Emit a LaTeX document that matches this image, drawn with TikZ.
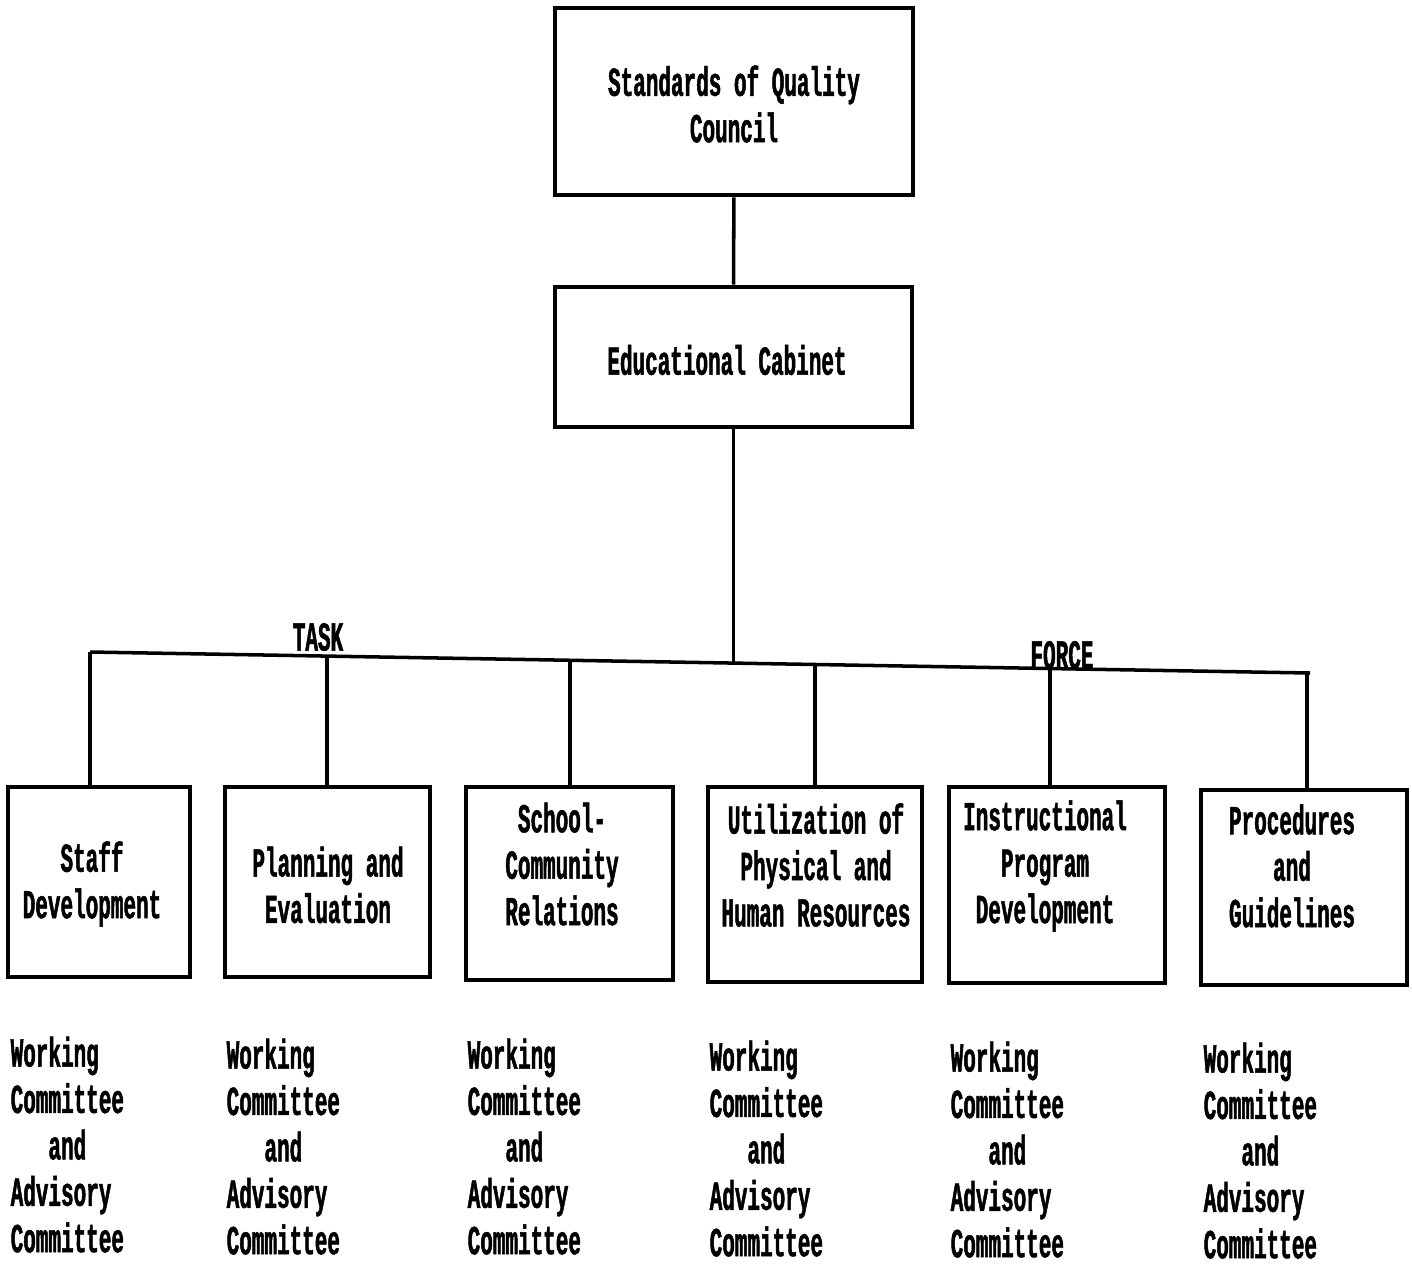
\documentclass[tikz,border=0pt]{standalone}
\usepackage{fontspec}
\newfontfamily\typefont[FakeStretch=0.51,FakeBold=1.2]{Liberation Mono}
\usetikzlibrary{positioning}

\begin{document}
\begin{tikzpicture}[x=0.01cm,y=-0.01cm,
  box/.style={draw,line width=1.3pt,inner sep=0pt},
  type/.style={font=\typefont\bfseries\fontsize{11.7}{13.2}\selectfont,align=center,inner sep=0pt},
  wc/.style={type,align=left,anchor=north west},
  link/.style={line width=1pt}]
\useasboundingbox (0,0) rectangle (1412,1278);
% council and cabinet
\node[box,minimum width=3.58cm,minimum height=1.87cm] (council) at (734,101.5) {};
\node[type] (councilT) at (734,104) {Standards of Quality\\Council};
\node[box,minimum width=3.57cm,minimum height=1.40cm] (cabinet) at (733.5,357) {};
\node[type] (cabinetT) at (727,360) {Educational Cabinet};
\draw[link] (council) -- (cabinet);
% task force bar
\coordinate (barL) at (90,652);
\coordinate (barR) at (1310,673);
\coordinate (jPlan) at (327,656.1);
\coordinate (jSchool) at (570,660.3);
\coordinate (jCab) at (733.5,663.1);
\coordinate (jUtil) at (815,664.5);
\coordinate (jInstr) at (1050,668.5);
\coordinate (jProc) at (1307,672.9);
\draw[link] (barL) -- (barR);
\draw[link] (cabinet) -- (jCab);
\node[type] (task) at (318,637) {TASK};
\node[type] (force) at (1062,655) {FORCE};
% task force boxes
\node[box,minimum width=1.82cm,minimum height=1.90cm] (staff) at (99,882) {};
\node[type] (staffT) at (92,884) {Staff\\Development};
\node[box,minimum width=2.05cm,minimum height=1.90cm] (plan) at (327.5,882) {};
\node[type] (planT) at (328,885) {Planning and\\Evaluation};
\node[box,minimum width=2.07cm,minimum height=1.93cm] (school) at (569.5,883.5) {};
\node[type] (schoolT) at (562,864) {School-\\Community\\Relations};
\node[box,minimum width=2.14cm,minimum height=1.95cm] (util) at (815,884.5) {};
\node[type] (utilT) at (816,865) {Utilization of\\Physical and\\Human Resources};
\node[box,minimum width=2.16cm,minimum height=1.96cm] (instr) at (1057,885) {};
\node[type] (instrT) at (1045,866) {Instructional\\Program\\Development};
\node[box,minimum width=2.06cm,minimum height=1.95cm] (proc) at (1304,887.5) {};
\node[type] (procT) at (1292,866) {Procedures\\and\\Guidelines};
\draw[link] (barL) -- (barL |- staff.north);
\draw[link] (jPlan) -- (jPlan |- plan.north);
\draw[link] (jSchool) -- (jSchool |- school.north);
\draw[link] (jUtil) -- (jUtil |- util.north);
\draw[link] (jInstr) -- (jInstr |- instr.north);
\draw[link] (jProc) -- (jProc |- proc.north);
% committees under each box
\node[wc] (staffC) at (10,1036) {Working\\Committee\\\phantom{Com}and\\Advisory\\Committee};
\node[wc] (planC) at (226,1038) {Working\\Committee\\\phantom{Com}and\\Advisory\\Committee};
\node[wc] (schoolC) at (467,1038) {Working\\Committee\\\phantom{Com}and\\Advisory\\Committee};
\node[wc] (utilC) at (709,1040) {Working\\Committee\\\phantom{Com}and\\Advisory\\Committee};
\node[wc] (instrC) at (950,1041) {Working\\Committee\\\phantom{Com}and\\Advisory\\Committee};
\node[wc] (procC) at (1203,1042) {Working\\Committee\\\phantom{Com}and\\Advisory\\Committee};
\end{tikzpicture}
\end{document}
